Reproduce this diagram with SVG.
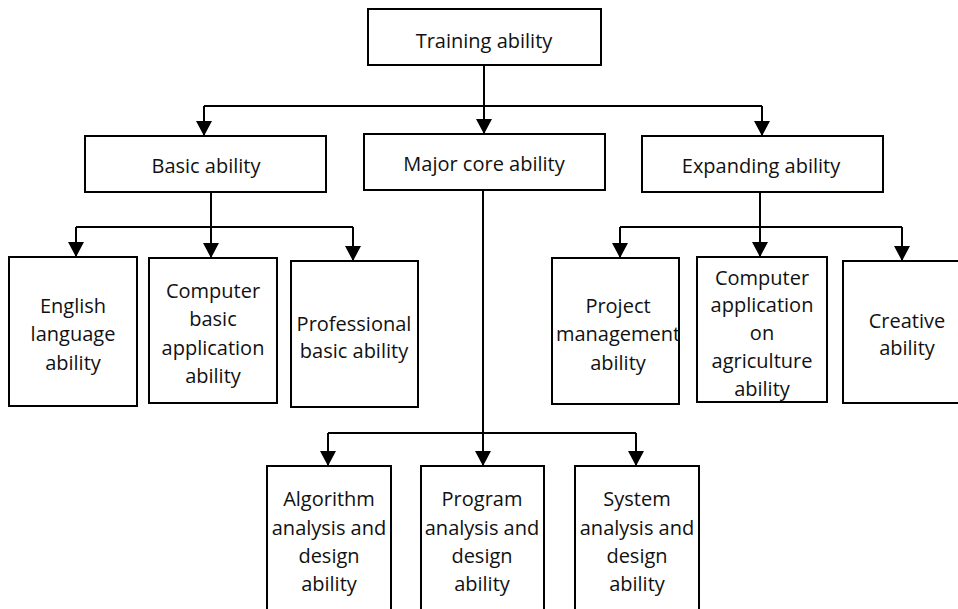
<svg xmlns="http://www.w3.org/2000/svg" width="958" height="609" viewBox="0 0 958 609">
<style>
.box{fill:#fff;stroke:#000;stroke-width:2}
.t{font-family:"Open Sans","Noto Sans",sans-serif;font-size:20px;fill:#111;text-anchor:middle;dominant-baseline:central}
.c{fill:none;stroke:#000;stroke-width:2}
</style>
<defs>
<marker id="ah" markerUnits="userSpaceOnUse" markerWidth="15" markerHeight="16" refX="15" refY="8" orient="auto">
<path d="M0,0 L15,8 L0,16 z" fill="#000"/>
</marker>
</defs>
<rect width="958" height="609" fill="#fff"/>
<g id="connectors">
<path class="c" d="M484,65 V106 M204,106 H762 M211,192 V227 M76,227 H353 M760,192 V227 M620,227 H902 M483,190 V433 M328,433 H636"/>
<path class="c" marker-end="url(#ah)" d="M204,106 V136"/>
<path class="c" marker-end="url(#ah)" d="M484,106 V134"/>
<path class="c" marker-end="url(#ah)" d="M762,106 V136"/>
<path class="c" marker-end="url(#ah)" d="M76,227 V257"/>
<path class="c" marker-end="url(#ah)" d="M211,227 V258"/>
<path class="c" marker-end="url(#ah)" d="M353,227 V261"/>
<path class="c" marker-end="url(#ah)" d="M620,227 V258"/>
<path class="c" marker-end="url(#ah)" d="M760,227 V257"/>
<path class="c" marker-end="url(#ah)" d="M902,227 V261"/>
<path class="c" marker-end="url(#ah)" d="M328,433 V466"/>
<path class="c" marker-end="url(#ah)" d="M483,433 V466"/>
<path class="c" marker-end="url(#ah)" d="M636,433 V466"/>
</g>
<g id="training"><rect class="box" x="368" y="9" width="233" height="56"/><text class="t" x="484" y="40">Training ability</text></g>
<g id="basic"><rect class="box" x="85" y="136" width="241" height="56"/><text class="t" x="206" y="165">Basic ability</text></g>
<g id="major"><rect class="box" x="364" y="134" width="241" height="56"/><text class="t" x="484" y="163">Major core ability</text></g>
<g id="expanding"><rect class="box" x="642" y="136" width="241" height="56"/><text class="t" x="761" y="165">Expanding ability</text></g>
<g id="english"><rect class="box" x="9" y="257" width="128" height="149"/><text class="t" x="73" y="305">English</text><text class="t" x="73" y="333">language</text><text class="t" x="73" y="362">ability</text></g>
<g id="compbasic"><rect class="box" x="149" y="258" width="128" height="145"/><text class="t" x="213" y="290">Computer</text><text class="t" x="213" y="318">basic</text><text class="t" x="213" y="347">application</text><text class="t" x="213" y="375">ability</text></g>
<g id="professional"><rect class="box" x="291" y="261" width="127" height="146"/><text class="t" x="354" y="323">Professional</text><text class="t" x="354" y="350">basic ability</text></g>
<g id="project"><rect class="box" x="552" y="258" width="127" height="146"/><text class="t" x="618" y="305">Project</text><text class="t" x="618" y="333">management</text><text class="t" x="618" y="362">ability</text></g>
<g id="compagri"><rect class="box" x="697" y="257" width="130" height="145"/><text class="t" x="762" y="277">Computer</text><text class="t" x="762" y="304">application</text><text class="t" x="762" y="332">on</text><text class="t" x="762" y="360">agriculture</text><text class="t" x="762" y="388">ability</text></g>
<g id="creative"><rect class="box" x="843" y="261" width="130" height="142"/><text class="t" x="907" y="320">Creative</text><text class="t" x="907" y="347">ability</text></g>
<g id="algorithm"><rect class="box" x="267" y="466" width="124" height="170"/><text class="t" x="329" y="498">Algorithm</text><text class="t" x="329" y="527">analysis and</text><text class="t" x="329" y="555">design</text><text class="t" x="329" y="583">ability</text></g>
<g id="program"><rect class="box" x="421" y="466" width="123" height="170"/><text class="t" x="482" y="498">Program</text><text class="t" x="482" y="527">analysis and</text><text class="t" x="482" y="555">design</text><text class="t" x="482" y="583">ability</text></g>
<g id="system"><rect class="box" x="575" y="466" width="124" height="170"/><text class="t" x="637" y="498">System</text><text class="t" x="637" y="527">analysis and</text><text class="t" x="637" y="555">design</text><text class="t" x="637" y="583">ability</text></g>
</svg>
